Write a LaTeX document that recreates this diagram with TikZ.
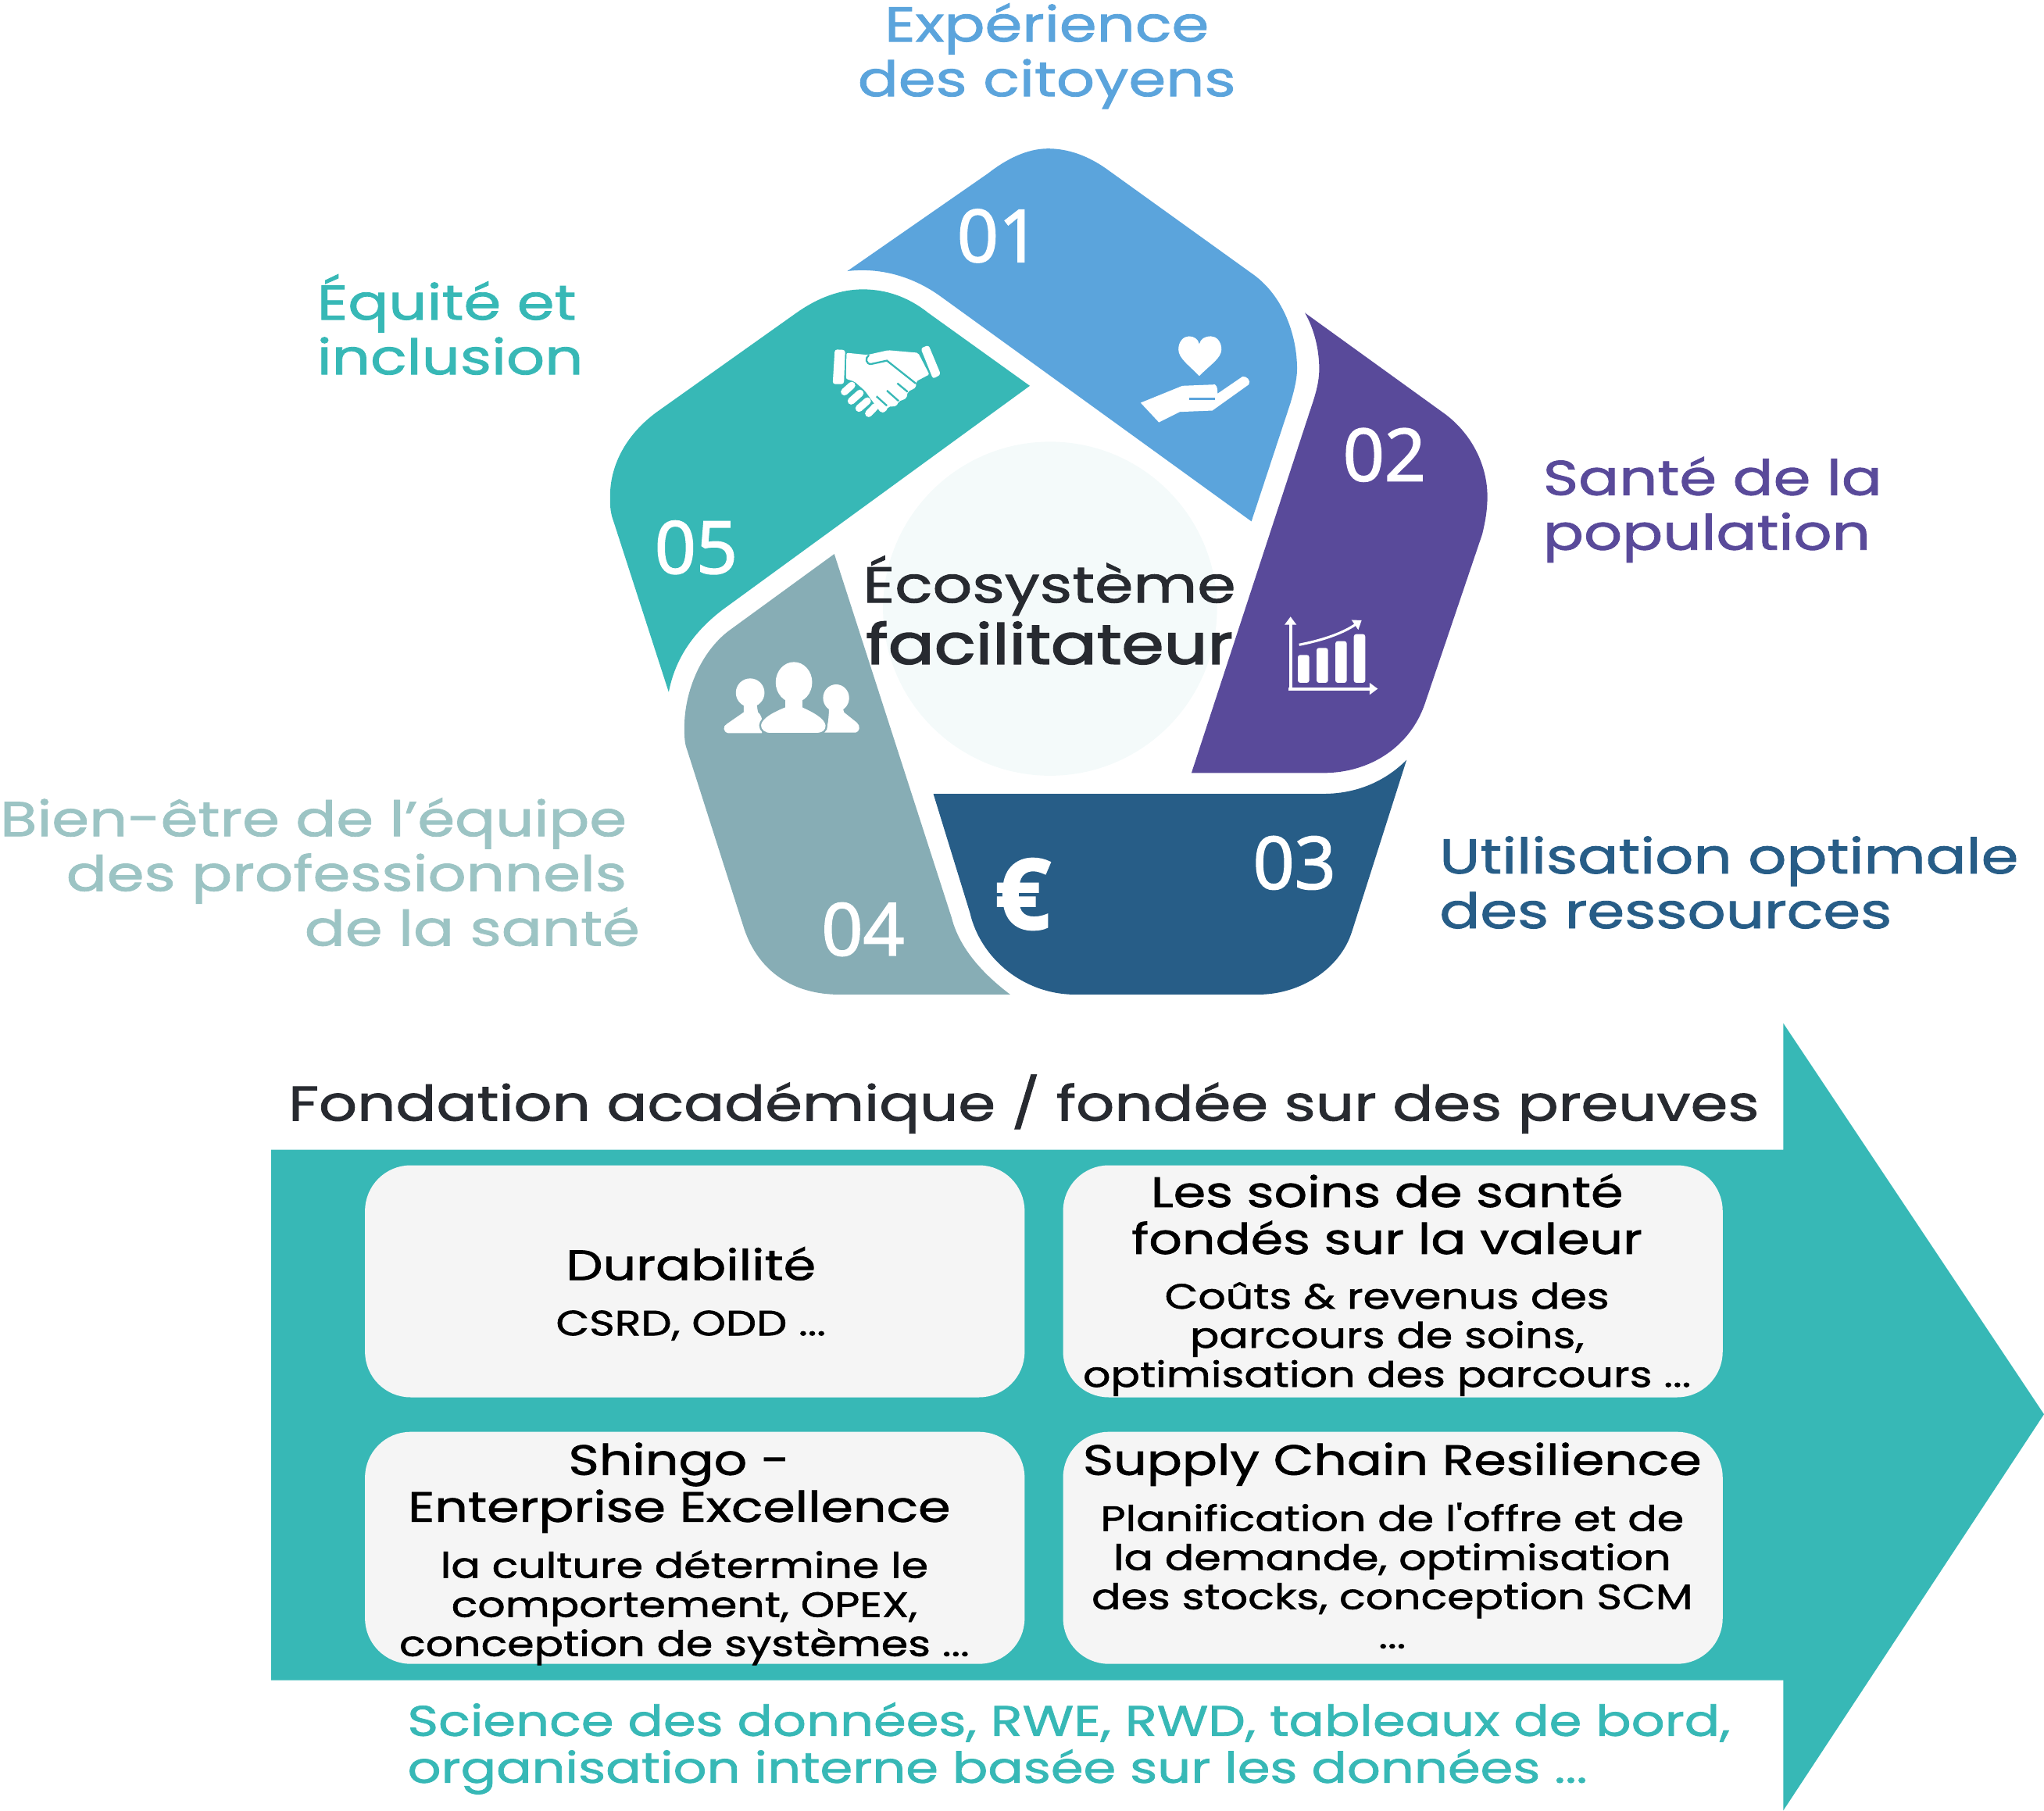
\documentclass[tikz,border=0pt]{standalone}
\usepackage{fontspec}
\usepackage{xcolor}
\usetikzlibrary{arrows.meta,positioning}
\newfontfamily\widefont{Poppins}[FakeStretch=1.23,FakeBold=1.4]
\newfontfamily\heavyfont{Poppins}[FakeStretch=1.23,FakeBold=2.4]
\newfontfamily\numfont{Open Sans}[FakeBold=2]
\definecolor{citizen}{HTML}{5BA4DC}
\definecolor{popul}{HTML}{594A9A}
\definecolor{resource}{HTML}{275D87}
\definecolor{staff}{HTML}{87ADB5}
\definecolor{stafftxt}{HTML}{9CC4C4}
\definecolor{equity}{HTML}{37B8B6}
\definecolor{ink}{HTML}{272A30}
\definecolor{hubfill}{HTML}{F4FAFA}
\definecolor{panelfill}{HTML}{F5F5F5}
\tikzset{
  lab/.style={font=\fontsize{30}{33.6}\selectfont\widefont,text=#1,inner sep=0pt},
  num/.style={font=\fontsize{44.5}{48}\selectfont\numfont,text=white,inner sep=0pt},
  hub/.style={circle,fill=hubfill,minimum size=205pt,inner sep=0pt},
  panel/.style={fill=panelfill,rounded corners=28pt,minimum width=404.8pt,minimum height=142.4pt,inner sep=0pt},
  panelhd/.style={font=\fontsize{26}{28.8}\selectfont\widefont,text=black,align=center,inner sep=0pt,anchor=base},
  panelbd/.style={font=\fontsize{21.6}{24}\selectfont\widefont,text=black,align=center,inner sep=0pt,anchor=base},
}
\begin{document}
\begin{tikzpicture}[x=0.8pt,y=-0.8pt,node distance=20.8pt and 23.2pt]
  \useasboundingbox (0,0) rectangle (1568,1389);
  \node[hub] (hubdisc) at (805.5,467) {};
  % pentagon
  \fill[citizen] (650,208) -- (758,133) .. controls (772,122) and (788,114) .. (804,114) .. controls (820,114) and (835,120) .. (848,129) -- (962,211) .. controls (985,228) and (995,258) .. (995,283) .. controls (995,292) and (992,302) .. (990,309) -- (960,400) -- (721,227) .. controls (700,212) and (675,205) .. (650,208) -- cycle;
  \fill[popul] (1001,240) -- (1109,318) .. controls (1130,334) and (1141,358) .. (1141,381) .. controls (1141,392) and (1139,402) .. (1137,410) -- (1093,540) .. controls (1082,572) and (1052,593) .. (1015,593) -- (914,593) -- (1004,318) .. controls (1008,306) and (1012,295) .. (1012,283) .. controls (1012,268) and (1008,252) .. (1001,240) -- cycle;
  \fill[resource] (716,609) -- (1015,609) .. controls (1040,609) and (1062,600) .. (1079,583) -- (1037,715) .. controls (1028,743) and (998,763) .. (965,763) -- (825,763) .. controls (785,763) and (752,735) .. (744,700) -- cycle;
  \fill[staff] (640,425) -- (730,704) .. controls (736,728) and (755,748) .. (775,763) -- (644,763) .. controls (608,763) and (582,745) .. (571,713) -- (527,575) .. controls (525,570) and (525,564) .. (525,558) .. controls (525,530) and (538,500) .. (559,484) -- cycle;
  \fill[equity] (790,296) -- (554,468) .. controls (532,485) and (518,505) .. (513,531) -- (471,401) .. controls (468,393) and (468,388) .. (468,381) .. controls (468,355) and (482,332) .. (504,316) -- (611,240) .. controls (628,228) and (645,222) .. (662,222) .. controls (680,222) and (697,228) .. (712,240) -- cycle;
  \node[num] (n01) at (766,181) {01};
  \node[num] (n02) at (1062,349) {02};
  \node[num] (n03) at (993,662) {03};
  \node[num] (n04) at (662,713) {04};
  \node[num] (n05) at (534,420) {05};
  % icons
  \fill[white] (920,288.5) .. controls (912,280) and (904,275) .. (904,268) .. controls (904,262) and (908,258) .. (912,258) .. controls (916,258) and (919,260) .. (920,264) .. controls (921,260) and (924,258) .. (929,258) .. controls (933,258) and (937,262) .. (937,268) .. controls (937,275) and (928,280) .. (920,288.5) -- cycle;
  \fill[white] (875,309) -- (907,296) -- (932,295) .. controls (934,296) and (934,300) .. (934,302) -- (953,289) .. controls (956,288) and (960,292) .. (958,295) -- (930,315) -- (905,316) -- (889,324) -- cycle;
  \draw[citizen,line width=1pt] (912,306) -- (932,306);
  \node[font=\fontsize{60}{64}\selectfont\numfont\bfseries,text=white,inner sep=0pt] (euro) at (784.5,686) {€};
  \begin{scope}[shift={(623.4,251.7)},scale=0.1998]
    \fill[white,rounded corners=1.5pt] (85,82) -- (125,84) -- (120,215) -- (77,215) -- cycle;
    \fill[white,rounded corners=1.5pt] (415,78) -- (445,65) -- (492,178) -- (462,195) -- cycle;
    \fill[white,rounded corners=1pt] (130,95) -- (210,103) -- (290,85) -- (405,95) -- (448,178) -- (397,205) -- (397,228) -- (365,245) -- (360,270) -- (330,282) -- (322,300) -- (290,302) -- (280,322) -- (262,325) -- (235,288) -- (200,240) -- (160,205) -- (128,195) -- cycle;
    \draw[equity,line width=1.1pt,line cap=round] (215,105) .. controls (200,115) and (205,140) .. (225,138) -- (285,125) -- (395,212);
    \draw[equity,line width=1.1pt] (325,212) -- (365,245);
    \draw[equity,line width=1.1pt] (285,240) -- (330,280);
    \draw[equity,line width=1.1pt] (245,262) -- (285,298);
    \draw[white,line width=4.4pt,line cap=round] (122,245) -- (150,220);
    \draw[white,line width=4.4pt,line cap=round] (148,280) -- (182,250);
    \draw[white,line width=4.4pt,line cap=round] (178,308) -- (210,280);
    \draw[white,line width=4.4pt,line cap=round] (215,328) -- (240,302);
  \end{scope}
  \begin{scope}[shift={(545.5,497.5)},scale=0.1998]
    \fill[white] (150,170) ellipse [x radius=55,y radius=55];
    \fill[white] (125,215) -- (175,215) -- (180,245) .. controls (200,260) and (200,300) .. (195,325) -- (65,325) .. controls (45,320) and (45,298) .. (60,290) -- (125,245) -- cycle;
    \fill[white] (480,190) ellipse [x radius=50,y radius=52];
    \fill[white] (452,225) -- (505,225) -- (510,245) -- (560,285) .. controls (575,298) and (570,320) .. (555,323) -- (435,323) .. controls (450,300) and (450,270) .. (452,250) -- cycle;
    \draw[staff,line width=1.1pt,fill=white] (285,205) -- (285,222) .. controls (240,240) and (190,265) .. (188,295) .. controls (188,315) and (205,328) .. (230,328) -- (400,328) .. controls (430,328) and (445,315) .. (443,295) .. controls (440,265) and (390,240) .. (350,222) -- (350,205) -- cycle;
    \fill[white] (318,130) ellipse [x radius=70,y radius=78];
    \fill[white] (285,190) rectangle (350,230);
  \end{scope}
  \begin{scope}[shift={(977,461.5)},scale=0.1998]
    \draw[white,line width=1.9pt,-{Triangle[length=5pt,width=7pt]}] (65,340) -- (65,58);
    \draw[white,line width=1.9pt,-{Triangle[length=5pt,width=7pt]}] (58,335) -- (400,335);
    \fill[white,rounded corners=1.5pt] (93,205) rectangle (137,312);
    \fill[white,rounded corners=1.5pt] (165,178) rectangle (209,312);
    \fill[white,rounded corners=1.5pt] (237,152) rectangle (281,312);
    \fill[white,rounded corners=1.5pt] (308,125) rectangle (352,312);
    \draw[white,line width=1.5pt,-{Triangle[length=5pt,width=7pt]}] (98,166) .. controls (180,150) and (260,125) .. (338,72);
  \end{scope}
  \node[font=\fontsize{31}{37.6}\selectfont\widefont,text=ink,align=center,inner sep=0pt] (hubtxt) at (805,468) {Écosystème\\\fontsize{34}{37.6}\selectfont\heavyfont facilitateur};
  % outer labels
  \node[lab=citizen,align=center] (expe) at (803,43) {Expérience\\des citoyens};
  \node[lab=equity,align=left,anchor=west] (equi) at (243,249) {Équité et\\inclusion};
  \node[lab=popul,align=left,anchor=west] (sante) at (1183.5,391) {Santé de la\\population};
  \node[lab=resource,align=left,anchor=west] (util) at (1104,677) {Utilisation optimale\\des ressources};
  \node[lab=stafftxt,align=right,anchor=east] (bien) at (491,669) {Bien-être de l’équipe\mbox{\kern8pt}\\des professionnels\mbox{\kern8pt}\\de la santé};
  % arrow
  \fill[equity] (208,882) -- (1368,882) -- (1368,785) -- (1568,1085) -- (1368,1389) -- (1368,1289) -- (208,1289) -- cycle;
  \node[lab=ink,anchor=west] (fond) at (221,847) {Fondation académique / fondée sur des preuves};
  \node[panel] (durab) at (533,983) {};
  \node[panel,right=of durab] (valeur) {};
  \node[panel,below=of durab] (shingo) {};
  \node[panel,right=of shingo] (supply) {};
  \node[panelhd] (durabhd) at (530,982) {Durabilité};
  \node[panelbd] (durabbd) at (530,1024.5) {CSRD, ODD ...};
  \node[panelhd] (valeurhd) at (1064,962) {Les soins de santé\\fondés sur la valeur};
  \node[panelbd] (valeurbd) at (1064,1064) {Coûts \& revenus des\\parcours de soins,\\optimisation des parcours ...};
  \node[panelhd] (shingohd) at (521,1167.5) {Shingo -\\Enterprise Excellence};
  \node[panelbd] (shingobd) at (525,1270.5) {la culture détermine le\\comportement, OPEX,\\conception de systèmes ...};
  \node[panelhd] (supplyhd) at (1068,1131.5) {Supply Chain Resilience};
  \node[panelbd] (supplybd) at (1068,1264.5) {Planification de l'offre et de\\la demande, optimisation\\des stocks, conception SCM\\...};
  \node[panelhd,text=equity,align=left,font=\fontsize{26.2}{28.8}\selectfont\widefont] (scitxt) at (820,1367.7) {Science des données, RWE, RWD, tableaux de bord,\\organisation interne basée sur les données ...\hspace*{\fill}};
\end{tikzpicture}
\end{document}
